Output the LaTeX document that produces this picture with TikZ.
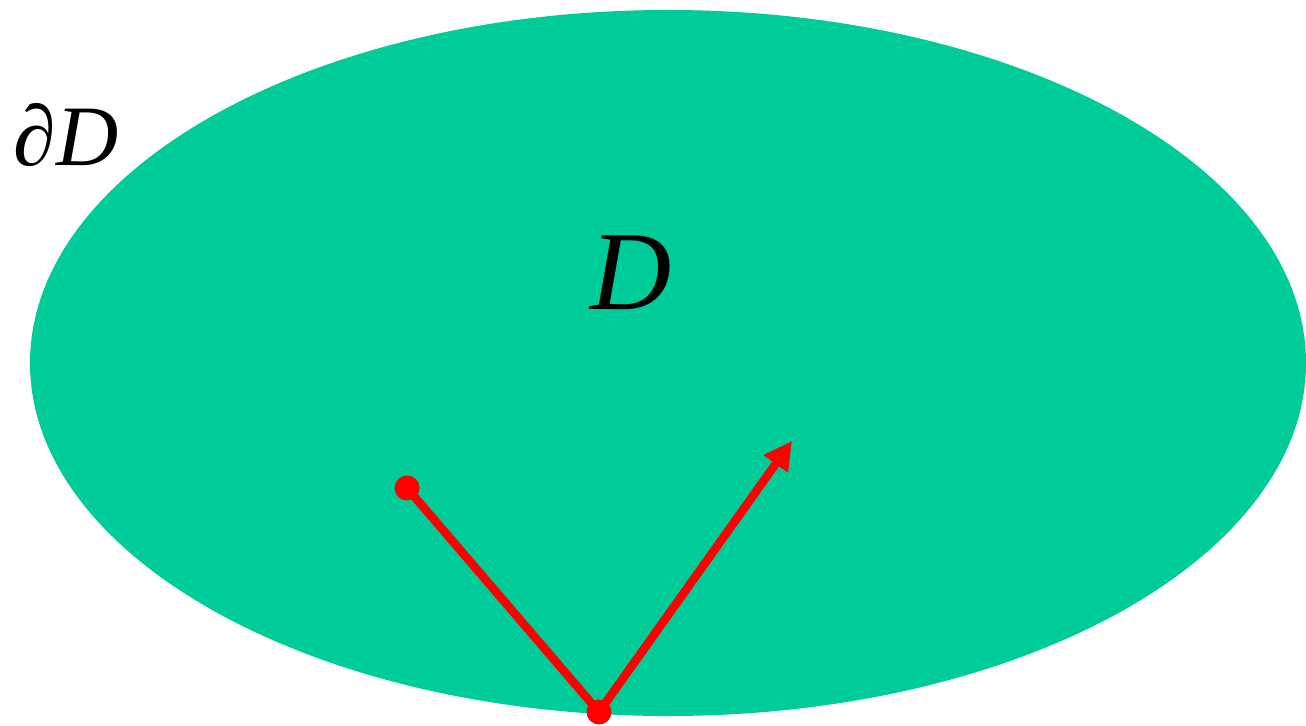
\documentclass[tikz,border=0pt]{standalone}
\usepackage{fontspec}
\setmainfont{Liberation Serif}
\usetikzlibrary{arrows.meta,positioning}
\definecolor{domaingreen}{HTML}{00CC99}

\begin{document}
\begin{tikzpicture}[x=1cm, y=1cm,
  region/.style={fill=domaingreen, draw=none},
  pathline/.style={red, line width=2.4pt},
  ray/.style={red, line width=2.4pt, -{Triangle[length=8pt,width=8pt]}},
  hitdot/.style={circle, fill=red, inner sep=0pt, minimum size=0.25cm}]
  \useasboundingbox (0,0) rectangle (13.06,-7.25);
  \fill[region] (6.68,-3.63) ellipse [x radius=6.38, y radius=3.53];
  \node[anchor=base, font=\fontsize{32}{38}\selectfont\itshape] (dlabel) at (6.31,-3.09) {D};
  \node[anchor=base, font=\fontsize{24.5}{30}\selectfont] (blabel) at (0.66,-1.66) {∂\textit{D}};
  \node[hitdot] (start) at (4.07,-4.88) {};
  \node[hitdot] (hit) at (5.99,-7.12) {};
  \coordinate (tip) at (7.92,-4.41);
  \draw[pathline] (start.center) -- (hit.center);
  \draw[ray] (hit.center) -- (tip);
\end{tikzpicture}
\end{document}
